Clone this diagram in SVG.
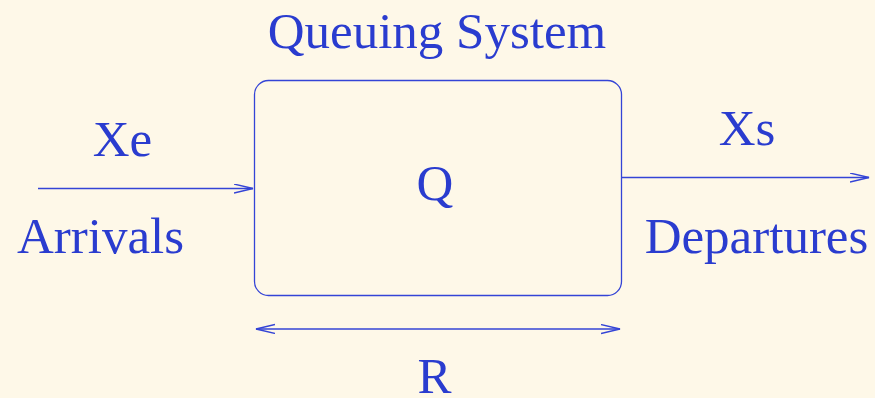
<svg xmlns="http://www.w3.org/2000/svg" width="875" height="398" viewBox="0 0 875 398">
<style>
.t{font-family:"Liberation Serif","Times New Roman",serif;font-size:51px;fill:#2a3ccf;text-anchor:middle}
.l{stroke:#3444d6;stroke-width:1.3;fill:none}
</style>
<defs>
<marker id="ah" markerUnits="userSpaceOnUse" markerWidth="22" markerHeight="12" refX="19" refY="5" orient="auto-start-reverse" viewBox="0 0 22 12">
<path d="M0,0.5 L19,5 L0,9.5" fill="none" stroke="#3444d6" stroke-width="1.3"/>
</marker>
</defs>
<rect width="875" height="398" fill="#fef8e8"/>
<g id="title"><text class="t" x="437" y="48">Queuing System</text></g>
<g id="queue">
<rect class="l" x="254.5" y="80.5" width="367" height="215" rx="14"/>
<text class="t" x="435" y="200">Q</text>
</g>
<g id="arrivals">
<text class="t" x="122.5" y="156">Xe</text>
<text class="t" x="100.5" y="253">Arrivals</text>
</g>
<g id="departures">
<text class="t" x="747" y="145">Xs</text>
<text class="t" x="756.5" y="253">Departures</text>
</g>
<g id="residence">
<text class="t" x="434.5" y="393">R</text>
</g>
<g id="connectors">
<line class="l" x1="38" y1="188.5" x2="253" y2="188.5" marker-end="url(#ah)"/>
<line class="l" x1="622" y1="177.5" x2="869" y2="177.5" marker-end="url(#ah)"/>
<line class="l" x1="256" y1="329" x2="620" y2="329" marker-start="url(#ah)" marker-end="url(#ah)"/>
</g>
</svg>
